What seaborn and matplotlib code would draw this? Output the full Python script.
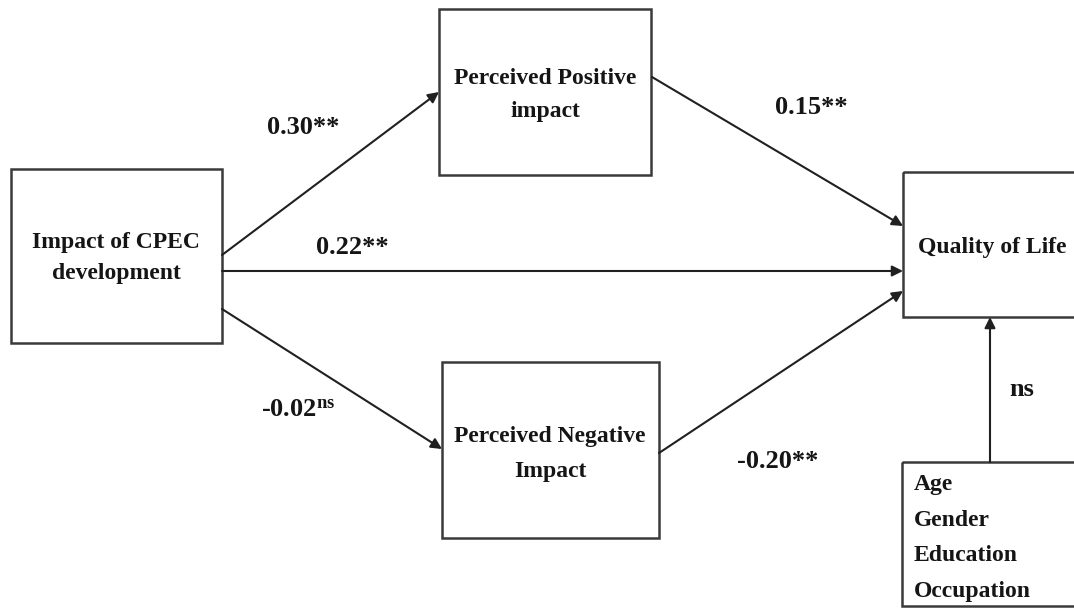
import matplotlib
matplotlib.use("Agg")
import matplotlib.pyplot as plt
from matplotlib.patches import Rectangle, FancyArrowPatch
import seaborn as sns

sns.set_theme(style="white")
plt.rcParams["font.family"] = ["Liberation Serif", "DejaVu Serif"]
plt.rcParams["font.weight"] = "bold"
plt.rcParams["mathtext.fontset"] = "custom"
plt.rcParams["mathtext.rm"] = "Liberation Serif:bold"
plt.rcParams["mathtext.it"] = "Liberation Serif:bold"
plt.rcParams["mathtext.bf"] = "Liberation Serif:bold"

# Constructs of the mediation model
node_ids = ["cpec", "pos", "neg", "qol", "ctrl"]
node_labels = [
    "Impact of CPEC\ndevelopment",
    "Perceived Positive\nimpact",
    "Perceived Negative\nImpact",
    "Quality of Life",
    "Age\nGender\nEducation\nOccupation",
]

# Path coefficients
path_from = ["cpec", "cpec", "cpec", "pos", "neg", "ctrl"]
path_to = ["pos", "qol", "neg", "qol", "qol", "qol"]
path_labels = ["0.30**", "0.22**", "-0.02$^{\\mathrm{ns}}$", "0.15**", "-0.20**", "ns"]

# Layout (pixel space, y downward): box extents x0, y0, x1, y1
boxes = {
    "cpec": (11, 169, 222, 343),
    "pos": (439, 9, 651, 175),
    "neg": (442, 362, 659, 538),
    "qol": (903, 172, 1078, 317),
    "ctrl": (902, 462, 1078, 606),
}
text_pos = {
    "cpec": (116, 258, "center"),
    "pos": (545, 95, "center"),
    "neg": (550, 454, "center"),
    "qol": (992, 247, "center"),
    "ctrl": (914, 538, "left"),
}
line_spacing = {"cpec": 1.6, "pos": 1.8, "neg": 1.85, "qol": 1.2, "ctrl": 1.9}
arrow_pts = [
    ((222, 255), (439, 92)),
    ((222, 271), (903, 271)),
    ((222, 309), (442, 449)),
    ((652, 77), (903, 226)),
    ((659, 453), (903, 291)),
    ((990, 462), (990, 317)),
]
label_pos = [(303, 128), (352, 247), (298, 410), (811, 107), (778, 462), (1022, 390)]

W, H = 1074, 610
fig = plt.figure(figsize=(W / 100, H / 100), dpi=100)
ax = fig.add_axes([0, 0, 1, 1])
ax.set_xlim(0, W)
ax.set_ylim(H, 0)
ax.axis("off")

ink = "#151515"
edge = "#3a3a3a"

for nid, label in zip(node_ids, node_labels):
    x0, y0, x1, y1 = boxes[nid]
    ax.add_patch(Rectangle((x0, y0), x1 - x0, y1 - y0, fill=False,
                           edgecolor=edge, linewidth=1.8, zorder=2))
    tx, ty, ha = text_pos[nid]
    ax.text(tx, ty, label, ha=ha, va="center", fontsize=17, fontweight="bold",
            color=ink, linespacing=line_spacing[nid], zorder=3)

for (p0, p1), lab, lp in zip(arrow_pts, path_labels, label_pos):
    arr = FancyArrowPatch(p0, p1, arrowstyle="-|>", mutation_scale=16,
                          color="#202020", linewidth=1.5, shrinkA=0, shrinkB=0,
                          zorder=2)
    ax.add_patch(arr)
    ax.text(lp[0], lp[1], lab, ha="center", va="center", fontsize=19,
            fontweight="bold", color=ink, zorder=3)

fig.savefig("out.png", dpi=100, facecolor="white")
